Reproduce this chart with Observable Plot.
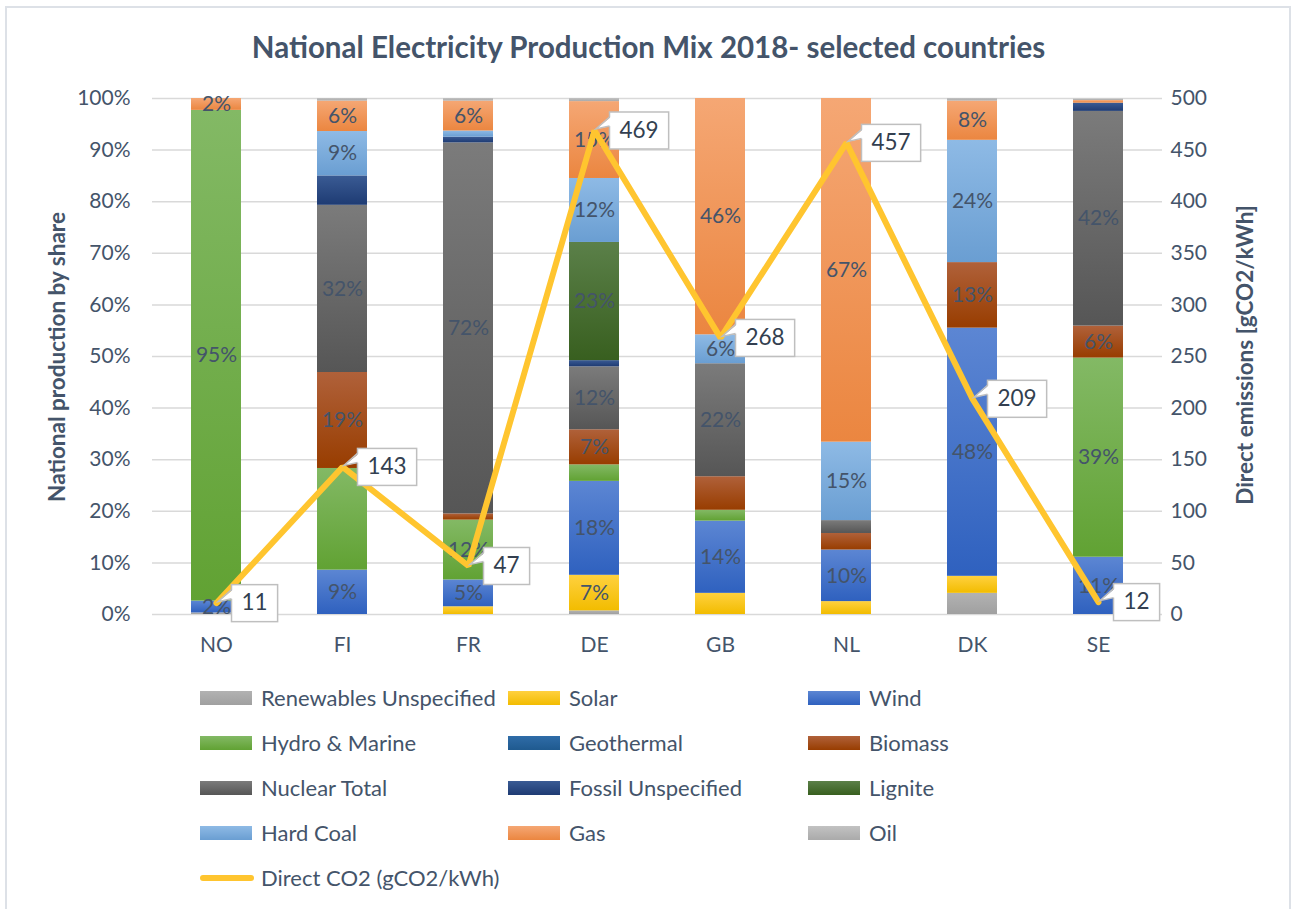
<!DOCTYPE html>
<html><head><meta charset="utf-8">
<script src="https://cdn.jsdelivr.net/npm/d3@7"></script>
<script src="https://cdn.jsdelivr.net/npm/@observablehq/plot@0.6"></script>
<style>
body{margin:0;background:#fff;font-family:Lato,"Open Sans",sans-serif;}
#wrap{position:relative;width:1297px;height:909px;overflow:hidden;background:#fff;}
#frame{position:absolute;left:5px;top:6px;width:1286px;height:940px;border:2px solid #DDE1E7;box-sizing:border-box;}
#title{position:absolute;left:0;top:28px;width:1297px;text-align:center;font-weight:700;font-size:29.5px;color:#44546A;line-height:38px;}
.ytitle{position:absolute;font-weight:700;font-size:22.5px;color:#44546A;white-space:nowrap;transform:translate(-50%,-50%) rotate(-90deg);line-height:26px;}
#chart{position:absolute;left:0;top:0;}
.sw{position:absolute;width:52px;height:14px;}
.lt{position:absolute;font-size:22px;color:#44546A;white-space:nowrap;line-height:26px;}
</style></head>
<body>
<div id="wrap">
  <div id="frame"></div>
  <div id="title">National Electricity Production Mix 2018- selected countries</div>
  <div class="ytitle" style="left:57px;top:357px;">National production by share</div>
  <div class="ytitle" style="left:1245px;top:355px;">Direct emissions [gCO2/kWh]</div>
  <div id="chart"></div>
  <div id="legend"></div>
</div>
<script>
const countries = ["NO","FI","FR","DE","GB","NL","DK","SE"];
const sources = ["Renewables Unspecified","Solar","Wind","Hydro & Marine","Geothermal","Biomass",
  "Nuclear Total","Fossil Unspecified","Lignite","Hard Coal","Gas","Oil"];

// shares (%) per source, in country order
const renewUnspec  = [0.3, 0,    0,    0.7,  0,    0,    4.1,  0];
const solar        = [0,   0,    1.5,  6.9,  4.1,  2.5,  3.3,  0];
const wind         = [2.3, 8.6,  5.2,  18.2, 14.0, 10.0, 48.1, 11.1];
const hydroMarine  = [95.1,19.7, 11.6, 3.2,  2.1,  0,    0,    38.6];
const geothermal   = [0,   0,    0,    0,    0,    0,    0,    0];
const biomass      = [0,   18.6, 1.2,  6.8,  6.5,  3.2,  12.7, 6.2];
const nuclearTotal = [0,   32.4, 71.9, 12.2, 21.9, 2.5,  0,    41.6];
const fossilUnspec = [0,   5.7,  1.1,  1.2,  0,    0,    0,    1.6];
const lignite      = [0,   0,    0,    22.9, 0,    0,    0,    0];
const hardCoal     = [0,   8.6,  1.2,  12.4, 5.6,  15.2, 23.7, 0];
const gas          = [2.3, 5.9,  5.8,  14.9, 45.8, 66.6, 7.6,  0.5];
const oil          = [0,   0.5,  0.5,  0.6,  0,    0,    0.5,  0.3];
const co2 = [11, 143, 47, 469, 268, 457, 209, 12];
const co2Max = 500;
const labeled = {
  NO:["Wind","Hydro & Marine","Gas"],
  FI:["Wind","Biomass","Nuclear Total","Hard Coal","Gas"],
  FR:["Wind","Hydro & Marine","Nuclear Total","Gas"],
  DE:["Solar","Wind","Biomass","Nuclear Total","Lignite","Hard Coal","Gas"],
  GB:["Wind","Nuclear Total","Hard Coal","Gas"],
  NL:["Wind","Hard Coal","Gas"],
  DK:["Wind","Biomass","Hard Coal","Gas"],
  SE:["Wind","Hydro & Marine","Biomass","Nuclear Total"]
};
const colorTop = ["#B2B2B2","#FFD13F","#5C86D3","#83B965","#2F6CA8","#B0613A","#7B7B7B","#3A5B94","#5B8049","#8EBAE5","#F5A774","#C2C2C2"];
const colorBot = ["#A0A0A0","#F2BC00","#2F61BF","#61A233","#1F5A8F","#983D00","#565656","#1E3B73","#385F1F","#6A9ED2","#EB8640","#AAAAAA"];

const series = [renewUnspec,solar,wind,hydroMarine,geothermal,biomass,nuclearTotal,fossilUnspec,lignite,hardCoal,gas,oil];
const rows = [];
countries.forEach((c,i)=>series.forEach((arr,j)=>{ if(arr[i]>0) rows.push({country:c,source:sources[j],value:arr[i]}); }));
const co2Rows = countries.map((c,i)=>({country:c,co2:co2[i]}));
const toLeft = v => v/co2Max*100;

const ticks = d3.range(0,101,10);
const chart = Plot.plot({
  width:1297, height:660, marginTop:98, marginBottom:46, marginLeft:152, marginRight:135,
  style:{fontFamily:"Lato, 'Open Sans', sans-serif", fontSize:"21px", color:"#44546A", background:"transparent", overflow:"visible"},
  x:{domain:countries, paddingInner:0.6, paddingOuter:0.3},
  y:{domain:[0,100]},
  color:{type:"ordinal", domain:sources, range:sources.map((s,i)=>`url(#g${i})`)},
  marks:[
    Plot.gridY(ticks,{stroke:"#D9D9D9", strokeOpacity:1, strokeWidth:1.5}),
    Plot.axisY(ticks,{anchor:"left", tickSize:0, tickPadding:22, tickFormat:d=>d+"%", label:null}),
    Plot.axisY(ticks,{anchor:"right", tickSize:0, tickPadding:8, tickFormat:d=>String(d*co2Max/100), label:null}),
    Plot.axisX({tickSize:0, tickPadding:23, label:null}),
    Plot.barY(rows,{x:"country", y:"value", fill:"source", order:sources}),
    Plot.text(rows, Plot.stackY({x:"country", y:"value", z:"source", order:sources,
      text:d=>labeled[d.country].includes(d.source)? Math.round(d.value)+"%":"", fill:"#44546A", fontSize:21})),
    Plot.line(co2Rows,{x:"country", y:d=>toLeft(d.co2), stroke:"#FFC52F", strokeWidth:6, strokeLinejoin:"miter"}),
    Plot.text(co2Rows,{x:"country", y:d=>toLeft(d.co2), text:d=>String(d.co2), dx:25, textAnchor:"start", fill:"#333F50", fontSize:22.5})
  ]
});
document.getElementById("chart").appendChild(chart);

// gradients
const svg = d3.select(chart);
const defs = svg.insert("defs",":first-child");
sources.forEach((s,i)=>{
  const g = defs.append("linearGradient").attr("id","g"+i).attr("x1",0).attr("y1",0).attr("x2",0).attr("y2",1);
  g.append("stop").attr("offset","0%").attr("stop-color",colorTop[i]);
  g.append("stop").attr("offset","100%").attr("stop-color",colorBot[i]);
});

// callout boxes (behind the last text mark)
const xs = chart.scale("x"), ys = chart.scale("y");
const xa = xs.apply ? (v)=>xs.apply(v) : Plot.scale({x:xs}).apply;
const ya = ys.apply ? (v)=>ys.apply(v) : Plot.scale({y:ys}).apply;
const bw = xs.bandwidth || 0;
const svgRect = chart.getBoundingClientRect();
const groups = Array.from(chart.children).filter(n=>n.tagName.toLowerCase()==="g");
const calloutG = groups[groups.length-1];
const boxesNode = document.createElementNS("http://www.w3.org/2000/svg","g");
chart.insertBefore(boxesNode, calloutG);
const boxes = d3.select(boxesNode);
Array.from(calloutG.querySelectorAll("text")).forEach((el,i)=>{
  const d = co2Rows[i];
  const b = el.getBoundingClientRect();
  const px = xa(d.country)+bw/2, py = ya(toLeft(d.co2));
  const left = b.left - svgRect.left - 10, w = b.width + 20, h = 37, top = py - 18;
  boxes.append("rect").attr("x",left).attr("y",top).attr("width",w).attr("height",h)
    .attr("fill","#fff").attr("stroke","#BFBFBF").attr("stroke-width",1.5);
  const p1=[left,top+5], p2=[left,top+14], tip=[px+2,py-1];
  boxes.append("path").attr("d",`M${tip}L${p1[0]+1.5},${p1[1]}L${p2[0]+1.5},${p2[1]}Z`).attr("fill","#fff");
  boxes.append("path").attr("d",`M${p1}L${tip}L${p2}`).attr("fill","none").attr("stroke","#BFBFBF").attr("stroke-width",1.5);
});

// legend
const legendRows = [
  ["Renewables Unspecified","Solar","Wind"],
  ["Hydro & Marine","Geothermal","Biomass"],
  ["Nuclear Total","Fossil Unspecified","Lignite"],
  ["Hard Coal","Gas","Oil"]
];
const lineLabel = "Direct CO2 (gCO2/kWh)";
const colX = [200,508,808], rowY = [698,743,788,833,878];
const leg = document.getElementById("legend");
legendRows.forEach((r,ri)=>r.forEach((name,ci)=>{
  const k = sources.indexOf(name);
  const sw = document.createElement("div"); sw.className="sw";
  sw.style.left=colX[ci]+"px"; sw.style.top=(rowY[ri]-7)+"px";
  sw.style.background=`linear-gradient(${colorTop[k]},${colorBot[k]})`;
  leg.appendChild(sw);
  const t = document.createElement("div"); t.className="lt"; t.textContent=name;
  t.style.left=(colX[ci]+61)+"px"; t.style.top=(rowY[ri]-13)+"px";
  leg.appendChild(t);
}));
const ls = document.createElement("div"); ls.className="sw";
ls.style.left="200px"; ls.style.top=(rowY[4]-3)+"px"; ls.style.height="6px"; ls.style.width="54px";
ls.style.borderRadius="3px"; ls.style.background="#FFC52F"; leg.appendChild(ls);
const lt = document.createElement("div"); lt.className="lt"; lt.textContent=lineLabel;
lt.style.left="261px"; lt.style.top=(rowY[4]-13)+"px"; leg.appendChild(lt);
</script>
</body></html>
